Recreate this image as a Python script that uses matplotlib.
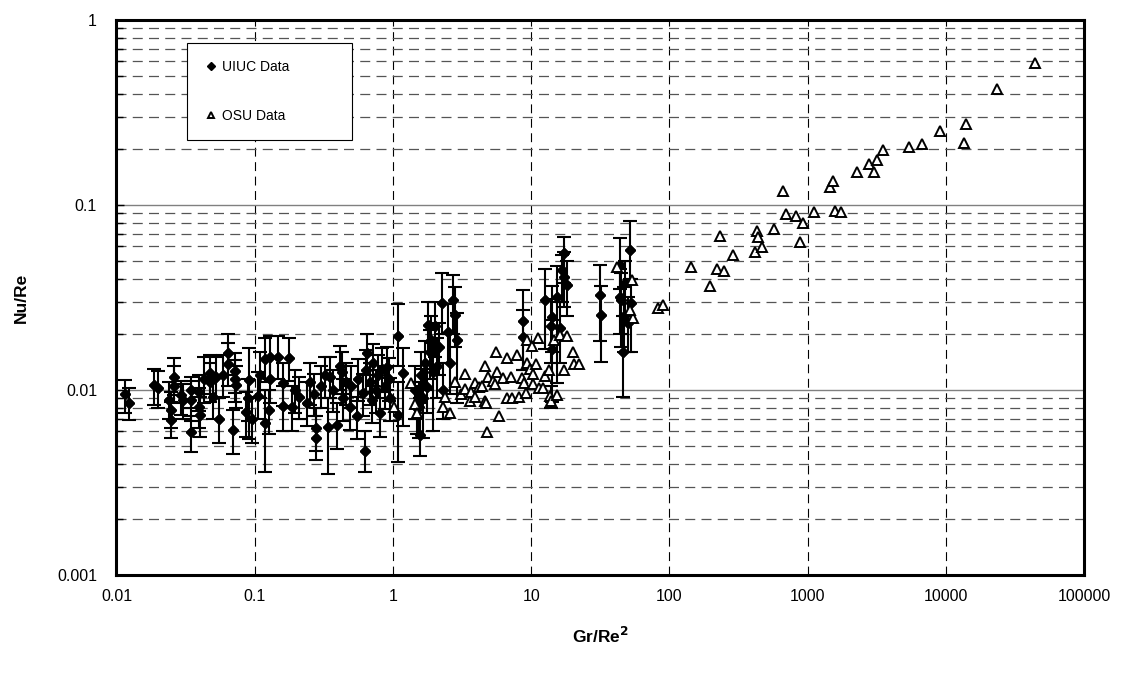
import matplotlib
matplotlib.use("Agg")
import matplotlib.pyplot as plt
import numpy as np
from matplotlib.ticker import FixedLocator, NullLocator, FuncFormatter, NullFormatter, LogLocator

plt.rcParams['font.family'] = ['Liberation Sans', 'DejaVu Sans']

# UIUC data: Gr/Re^2, Nu/Re, lower and upper end of error bar
uiuc_x = [0.0116, 0.0123, 0.0188, 0.0199, 0.0259, 0.0259, 0.0241, 0.0248, 0.0248, 0.0293,
          0.0301, 0.0346, 0.0346, 0.0346, 0.0397, 0.0397, 0.0405, 0.0432, 0.0477, 0.0477,
          0.0496, 0.0525, 0.0555, 0.0594, 0.0638, 0.0645, 0.0693, 0.0725, 0.0725, 0.0730,
          0.0865, 0.0913, 0.0900, 0.095, 0.105, 0.110, 0.1187, 0.1187, 0.128, 0.128,
          0.127, 0.148, 0.160, 0.160, 0.178, 0.185, 0.195, 0.21, 0.237, 0.268,
          0.276, 0.276, 0.25, 0.30, 0.32, 0.341, 0.35, 0.37, 0.396, 0.414,
          0.426, 0.437, 0.46, 0.49, 0.50, 0.55, 0.56, 0.611, 0.629, 0.64,
          0.646, 0.68, 0.70, 0.72, 0.75, 0.78, 0.80, 0.84, 0.87, 0.902,
          0.93, 0.95, 1.094, 1.094, 1.19, 1.45, 1.50, 1.57, 1.60, 1.65,
          1.70, 1.75, 1.80, 1.85, 1.89, 1.95, 2.0, 2.1, 2.15, 2.25,
          2.3, 2.52, 2.6, 2.74, 2.82, 2.9, 1.55, 8.69, 8.8, 12.6,
          13.9, 14.2, 14.2, 15.5, 16.3, 16.6, 17.2, 17.4, 18.3, 14.0,
          31.5, 32.2, 44.0, 44.0, 45.0, 46.0, 47.0, 52.0, 52.5, 50.0,
          48.0]
uiuc_y = [0.0095, 0.0085, 0.0106, 0.0103, 0.0117, 0.0105, 0.0088, 0.0078, 0.0069, 0.0094,
          0.0088, 0.0100, 0.0088, 0.0059, 0.0098, 0.0081, 0.0073, 0.0114, 0.0123, 0.0111,
          0.0092, 0.0118, 0.0070, 0.0121, 0.0158, 0.0139, 0.0061, 0.0126, 0.0114, 0.0106,
          0.0076, 0.0113, 0.0090, 0.0070, 0.0093, 0.0120, 0.0147, 0.0066, 0.0151, 0.0114,
          0.0078, 0.0151, 0.0109, 0.0082, 0.0148, 0.0081, 0.0100, 0.0092, 0.0085, 0.0095,
          0.0062, 0.0055, 0.0110, 0.0105, 0.0120, 0.0063, 0.0118, 0.0100, 0.0065, 0.0134,
          0.0125, 0.0090, 0.0110, 0.0081, 0.0105, 0.0072, 0.0115, 0.0096, 0.0047, 0.0128,
          0.0158, 0.0110, 0.0088, 0.0140, 0.0100, 0.0120, 0.0075, 0.0130, 0.0105, 0.0133,
          0.0115, 0.0090, 0.0196, 0.0073, 0.0124, 0.0100, 0.0080, 0.0057, 0.0120, 0.0090,
          0.0140, 0.0104, 0.0225, 0.0160, 0.0186, 0.0125, 0.0221, 0.0134, 0.0170, 0.0294,
          0.0100, 0.0206, 0.0140, 0.0307, 0.0254, 0.0186, 0.0081, 0.0237, 0.0193, 0.0307,
          0.0221, 0.0249, 0.0166, 0.0317, 0.0216, 0.0445, 0.0410, 0.0553, 0.0369, 0.0087,
          0.0326, 0.0254, 0.0473, 0.0319, 0.0307, 0.0161, 0.0250, 0.0571, 0.0294, 0.0230,
          0.0380]
uiuc_lo = [0.0075, 0.0069, 0.0083, 0.0080, 0.0094, 0.0085, 0.0070, 0.0062, 0.0055, 0.0073,
           0.0070, 0.0080, 0.0068, 0.0046, 0.0077, 0.0062, 0.0056, 0.0085, 0.0095, 0.0086,
           0.0070, 0.0090, 0.0052, 0.0092, 0.0120, 0.0105, 0.0045, 0.0096, 0.0086, 0.0080,
           0.0056, 0.0054, 0.0068, 0.0052, 0.0070, 0.0090, 0.0110, 0.0036, 0.0115, 0.0085,
           0.0058, 0.0115, 0.0082, 0.0060, 0.0112, 0.0060, 0.0075, 0.0070, 0.0064, 0.0072,
           0.0047, 0.0042, 0.0083, 0.0080, 0.0090, 0.0035, 0.0090, 0.0076, 0.0048, 0.0100,
           0.0095, 0.0068, 0.0083, 0.0061, 0.0080, 0.0054, 0.0087, 0.0072, 0.0036, 0.0097,
           0.0120, 0.0083, 0.0066, 0.0105, 0.0075, 0.0090, 0.0056, 0.0098, 0.0079, 0.0100,
           0.0087, 0.0068, 0.0135, 0.0041, 0.0064, 0.0070, 0.0058, 0.0044, 0.0085, 0.0055,
           0.0100, 0.0075, 0.0160, 0.0115, 0.0130, 0.0060, 0.0150, 0.0090, 0.0120, 0.0200,
           0.0070, 0.0140, 0.0095, 0.0200, 0.0170, 0.0085, 0.0055, 0.0128, 0.0128, 0.0166,
           0.0140, 0.0160, 0.0086, 0.0109, 0.0140, 0.0300, 0.0280, 0.0380, 0.0250, 0.0080,
           0.0183, 0.0142, 0.0350, 0.0200, 0.0170, 0.0092, 0.0160, 0.0400, 0.0160, 0.0160,
           0.0250]
uiuc_hi = [0.0113, 0.0103, 0.0130, 0.0126, 0.0149, 0.0135, 0.0110, 0.0098, 0.0086, 0.0112,
           0.0108, 0.0118, 0.0112, 0.0072, 0.0120, 0.0102, 0.0092, 0.0150, 0.0155, 0.0140,
           0.0118, 0.0150, 0.0090, 0.0155, 0.0202, 0.0180, 0.0078, 0.0159, 0.0145, 0.0135,
           0.0098, 0.0169, 0.0115, 0.0092, 0.0125, 0.0160, 0.0191, 0.0100, 0.0196, 0.0150,
           0.0100, 0.0195, 0.0140, 0.0105, 0.0190, 0.0105, 0.0128, 0.0118, 0.0110, 0.0122,
           0.0080, 0.0072, 0.0140, 0.0135, 0.0150, 0.0090, 0.0150, 0.0128, 0.0085, 0.0172,
           0.0160, 0.0115, 0.0140, 0.0105, 0.0135, 0.0092, 0.0147, 0.0122, 0.0060, 0.0165,
           0.0200, 0.0140, 0.0112, 0.0178, 0.0128, 0.0155, 0.0097, 0.0168, 0.0135, 0.0170,
           0.0148, 0.0116, 0.0290, 0.0110, 0.0169, 0.0135, 0.0105, 0.0090, 0.0160, 0.0130,
           0.0185, 0.0140, 0.0300, 0.0210, 0.0250, 0.0180, 0.0300, 0.0190, 0.0230, 0.0431,
           0.0140, 0.0290, 0.0200, 0.0420, 0.0360, 0.0260, 0.0110, 0.0349, 0.0270, 0.0450,
           0.0310, 0.0366, 0.0240, 0.0470, 0.0300, 0.0537, 0.0560, 0.0670, 0.0500, 0.0105,
           0.0473, 0.0365, 0.0665, 0.0450, 0.0430, 0.0250, 0.0360, 0.0822, 0.0400, 0.0320,
           0.0500]

# OSU data: Gr/Re^2, Nu/Re
osu_x = [1.02, 1.35, 1.45, 1.5, 2.3, 2.4, 2.6, 2.8, 3.1, 3.3,
         3.3, 3.6, 3.7, 3.9, 3.9, 4.2, 4.4, 4.6, 4.6, 4.7,
         4.8, 4.9, 5.3, 5.5, 5.6, 5.7, 5.9, 6.3, 6.7, 6.7,
         7.2, 7.3, 7.9, 8.1, 8.6, 8.9, 9.1, 9.33, 9.33, 9.8,
         10.2, 10.3, 10.3, 10.9, 11.2, 11.4, 12.2, 12.5, 13.4, 13.7,
         14.0, 14.7, 15.4, 16.3, 17.3, 18.2, 20.0, 20.3, 22.1, 42.0,
         53.5, 54.5, 52.0, 82.8, 90, 143, 197, 222, 232, 248,
         289, 417, 431, 441, 468, 572, 665, 699, 826, 883,
         928, 1115, 1460, 1530, 1570, 1750, 2280, 2790, 3030, 3200,
         3520, 5430, 6750, 9100, 13500, 14060, 23600, 44400]
osu_y = [0.0081, 0.0109, 0.0084, 0.0075, 0.0081, 0.0092, 0.0075, 0.0110, 0.0095, 0.0101,
         0.0122, 0.0087, 0.0098, 0.0109, 0.0092, 0.0104, 0.0105, 0.0135, 0.0087, 0.0085,
         0.0059, 0.0118, 0.0112, 0.0108, 0.0161, 0.0125, 0.0072, 0.0116, 0.0149, 0.0091,
         0.0118, 0.0091, 0.0155, 0.0092, 0.0116, 0.0109, 0.0096, 0.0186, 0.0140, 0.0130,
         0.0173, 0.0122, 0.0108, 0.0138, 0.0191, 0.0103, 0.0103, 0.0119, 0.0128, 0.0093,
         0.0087, 0.0186, 0.0094, 0.0198, 0.0128, 0.0196, 0.0161, 0.0138, 0.0138, 0.0465,
         0.0393, 0.0245, 0.0270, 0.0277, 0.0288, 0.0462, 0.0365, 0.0451, 0.0680, 0.0440,
         0.0537, 0.0557, 0.0723, 0.0671, 0.0593, 0.0742, 0.119, 0.0894, 0.0872, 0.0631,
         0.0799, 0.0917, 0.125, 0.135, 0.0928, 0.0917, 0.151, 0.167, 0.151, 0.175,
         0.198, 0.206, 0.214, 0.251, 0.216, 0.274, 0.424, 0.586]

x_ticks = [0.01, 0.1, 1, 10, 100, 1000, 10000, 100000]
y_ticks = [0.001, 0.01, 0.1, 1]

fig = plt.figure(figsize=(11.31, 6.81), dpi=100)
ax = fig.add_axes([0.103, 0.1557, 0.8555, 0.8149])
ax.set_xscale('log')
ax.set_yscale('log')
ax.set_xlim(0.01, 100000)
ax.set_ylim(0.001, 1)

# grid like the old Excel chart
for t in x_ticks[1:-1]:
    ax.axvline(t, color='black', lw=0.8, ls=(0, (8, 5)), zorder=0)
for d in y_ticks[:-1]:
    for m in range(2, 10):
        ax.axhline(d * m, color='#555555', lw=0.9, ls=(0, (8, 5)), zorder=0)
for t in y_ticks[1:-1]:
    ax.axhline(t, color='#808080', lw=1.0, zorder=0)

uiuc_y_arr = np.array(uiuc_y)
yerr = [uiuc_y_arr - np.array(uiuc_lo), np.array(uiuc_hi) - uiuc_y_arr]
ax.errorbar(uiuc_x, uiuc_y, yerr=yerr, fmt='D', color='black', ms=5.5,
            ecolor='black', elinewidth=1.5, capsize=5, capthick=1.5, zorder=3)
ax.plot(uiuc_x, uiuc_y, 'D', color='black', ms=5.5, ls='none', zorder=4, label='UIUC Data')
ax.plot(osu_x, osu_y, '^', mfc='white', mec='black', mew=1.4, ms=6.5,
        ls='none', zorder=5, label='OSU Data')

ax.xaxis.set_major_locator(FixedLocator(x_ticks))
ax.xaxis.set_minor_locator(NullLocator())
ax.yaxis.set_major_locator(FixedLocator(y_ticks))
ax.yaxis.set_minor_locator(LogLocator(base=10, subs=tuple(range(2, 10)), numticks=10))
ax.xaxis.set_major_formatter(FuncFormatter(lambda v, p: f"{v:g}"))
ax.yaxis.set_major_formatter(FuncFormatter(lambda v, p: f"{v:g}"))
ax.yaxis.set_minor_formatter(NullFormatter())
ax.tick_params(axis='x', which='both', length=0, pad=10, labelsize=11.5)
ax.tick_params(axis='y', which='major', direction='in', length=6, width=1, pad=14, labelsize=11.5)
ax.tick_params(axis='y', which='minor', direction='in', length=5, width=1)

for s in ax.spines.values():
    s.set_linewidth(2.2)

ax.set_xlabel('Gr/Re$^{\\mathbf{2}}$', fontsize=12.5, fontweight='bold', labelpad=16)
ax.set_ylabel('Nu/Re', fontsize=12.5, fontweight='bold', labelpad=20)

leg = ax.legend(loc='lower left', bbox_to_anchor=(0.073, 0.784, 0.17, 0.178), mode='expand',
                fontsize=10, frameon=True, fancybox=False, edgecolor='black', framealpha=1,
                labelspacing=2.55, borderpad=1.2, handlelength=1.0, handletextpad=0.3,
                borderaxespad=0, markerscale=0.75)
leg.get_frame().set_linewidth(0.8)
leg.set_zorder(10)

fig.savefig('out.png', dpi=100)
